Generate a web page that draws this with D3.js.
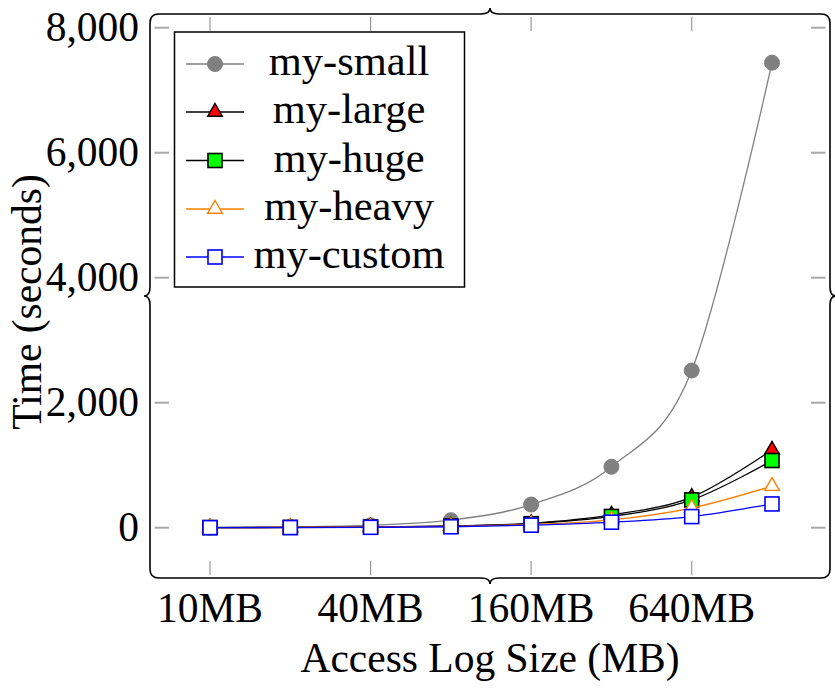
<!DOCTYPE html>
<html>
<head>
<meta charset="utf-8">
<script src="https://cdn.jsdelivr.net/npm/d3@7"></script>
<style>
  body { margin: 0; background: #fff; }
  svg text { font-family: "Liberation Serif", "DejaVu Serif", serif; fill: #000; }
</style>
</head>
<body>
<svg id="chart" width="835" height="688"></svg>
<script>
// ---- data ----
const sizes = [10, 20, 40, 80, 160, 320, 640, 1280];
const xTickValues = [10, 40, 160, 640];
const xTickLabels = ["10MB", "40MB", "160MB", "640MB"];
const yTickValues = [0, 2000, 4000, 6000, 8000];
const seriesNames = ["my-small", "my-large", "my-huge", "my-heavy", "my-custom"];
const smallVals  = [3, 12, 40, 120, 370, 975, 2515, 7440];
const largeVals  = [2, 5, 12, 28, 70, 205, 490, 1245];
const hugeVals   = [2, 5, 11, 26, 64, 180, 445, 1075];
const heavyVals  = [1, 3, 8, 20, 52, 125, 315, 665];
const customVals = [1, 2, 6, 15, 40, 88, 178, 380];

const series = [
  { name: seriesNames[0], values: smallVals,  line: "#808080", mark: "circle",   fill: "#808080", stroke: "#808080" },
  { name: seriesNames[1], values: largeVals,  line: "#000000", mark: "triangle", fill: "#ff0000", stroke: "#000000" },
  { name: seriesNames[2], values: hugeVals,   line: "#000000", mark: "square",   fill: "#00ff00", stroke: "#000000" },
  { name: seriesNames[3], values: heavyVals,  line: "#ff8000", mark: "triangle", fill: "#ffffff", stroke: "#ff8000" },
  { name: seriesNames[4], values: customVals, line: "#0000ff", mark: "square",   fill: "#ffffff", stroke: "#0000ff" }
];

const svg = d3.select("#chart");
const AXIS_FS = 41.5, LEGEND_FS = 42.5;

// ---- scales ----
const x = d3.scaleLog().base(2).domain([10, 1280]).range([210, 772]);
const y = d3.scaleLinear().domain([0, 8000]).range([527.7, 27.7]);

// ---- frame with braces ----
const L = 150, R = 830, T = 14, B = 578;
const mx = (L + R) / 2, my = (T + B) / 2;
const r = 9, w = 9, a = 6;
const fp = d3.path();
fp.moveTo(L + r, T);
fp.lineTo(mx - w, T); fp.quadraticCurveTo(mx, T, mx, T - a); fp.quadraticCurveTo(mx, T, mx + w, T);
fp.lineTo(R - r, T); fp.quadraticCurveTo(R, T, R, T + r);
fp.lineTo(R, my - w); fp.quadraticCurveTo(R, my, R + a, my); fp.quadraticCurveTo(R, my, R, my + w);
fp.lineTo(R, B - r); fp.quadraticCurveTo(R, B, R - r, B);
fp.lineTo(mx + w, B); fp.quadraticCurveTo(mx, B, mx, B + a); fp.quadraticCurveTo(mx, B, mx - w, B);
fp.lineTo(L + r, B); fp.quadraticCurveTo(L, B, L, B - r);
fp.lineTo(L, my + w); fp.quadraticCurveTo(L, my, L - a, my); fp.quadraticCurveTo(L, my, L, my - w);
fp.lineTo(L, T + r); fp.quadraticCurveTo(L, T, L + r, T);
fp.closePath();

// ---- ticks ----
const tickG = svg.append("g");
tickG.selectAll("line.xt-top").data(xTickValues).join("line")
  .attr("x1", d => x(d)).attr("x2", d => x(d)).attr("y1", T + 3).attr("y2", T + 17)
  .attr("stroke", "#999").attr("stroke-width", 1.2);
tickG.selectAll("line.xt-bot").data(xTickValues).join("line")
  .attr("x1", d => x(d)).attr("x2", d => x(d)).attr("y1", B - 3).attr("y2", B - 17)
  .attr("stroke", "#999").attr("stroke-width", 1.2);
tickG.selectAll("line.yt-l").data(yTickValues).join("line")
  .attr("x1", L + 4.5).attr("x2", L + 19).attr("y1", d => y(d)).attr("y2", d => y(d))
  .attr("stroke", "#aaa").attr("stroke-width", 2);
tickG.selectAll("line.yt-r").data(yTickValues).join("line")
  .attr("x1", R - 4.5).attr("x2", R - 19).attr("y1", d => y(d)).attr("y2", d => y(d))
  .attr("stroke", "#aaa").attr("stroke-width", 2);

// ---- tick labels ----
svg.append("g").selectAll("text").data(xTickValues).join("text")
  .attr("x", d => x(d)).attr("y", 622).attr("text-anchor", "middle")
  .attr("font-size", AXIS_FS).text((d, i) => xTickLabels[i]);
const fmt = d3.format(",");
svg.append("g").selectAll("text").data(yTickValues).join("text")
  .attr("x", 139).attr("y", d => y(d) + 13).attr("text-anchor", "end")
  .attr("font-size", AXIS_FS).text(d => fmt(d));

// axis titles
svg.append("text").attr("x", mx).attr("y", 672).attr("text-anchor", "middle")
  .attr("font-size", AXIS_FS).text("Access Log Size (MB)");
svg.append("text").attr("transform", `translate(41,${my + 6}) rotate(-90)`)
  .attr("text-anchor", "middle").attr("font-size", AXIS_FS).text("Time (seconds)");

// ---- marks ----
function drawMark(g, kind, fill, stroke) {
  if (kind === "circle") {
    g.append("circle").attr("r", 7.5).attr("fill", fill).attr("stroke", stroke).attr("stroke-width", 1);
  } else if (kind === "square") {
    g.append("rect").attr("x", -7).attr("y", -7).attr("width", 14).attr("height", 14)
      .attr("fill", fill).attr("stroke", stroke).attr("stroke-width", 1.6);
  } else {
    const Rr = 8.5;
    g.append("path").attr("d", `M0,${-Rr}L${Rr * 0.866},${Rr / 2}L${-Rr * 0.866},${Rr / 2}Z`)
      .attr("fill", fill).attr("stroke", stroke).attr("stroke-width", 1.4);
  }
}

const line = d3.line().x(d => x(d[0])).y(d => y(d[1])).curve(d3.curveCardinal.tension(0));
const plotG = svg.append("g");
series.forEach(s => {
  const pts = sizes.map((sz, i) => [sz, s.values[i]]);
  plotG.append("path").attr("d", line(pts)).attr("fill", "none")
    .attr("stroke", s.line).attr("stroke-width", 1.3);
  pts.forEach(p => {
    const g = plotG.append("g").attr("transform", `translate(${x(p[0])},${y(p[1])})`);
    drawMark(g, s.mark, s.fill, s.stroke);
  });
});

// frame on top
svg.append("path").attr("d", fp.toString()).attr("fill", "none")
  .attr("stroke", "#000").attr("stroke-width", 1.6);

// ---- legend ----
const lg = svg.append("g");
lg.append("rect").attr("x", 174.5).attr("y", 32).attr("width", 290).attr("height", 255)
  .attr("fill", "#fff").attr("stroke", "#000").attr("stroke-width", 1.5);
const rowY = [64, 112, 160.5, 209, 257];
series.forEach((s, i) => {
  const ry = rowY[i];
  lg.append("line").attr("x1", 186).attr("x2", 244).attr("y1", ry).attr("y2", ry)
    .attr("stroke", s.line).attr("stroke-width", 1.3);
  const g = lg.append("g").attr("transform", `translate(215,${ry})`);
  drawMark(g, s.mark, s.fill, s.stroke);
  lg.append("text").attr("x", 349).attr("y", ry + 11).attr("text-anchor", "middle")
    .attr("font-size", LEGEND_FS).text(s.name);
});
</script>
</body>
</html>
